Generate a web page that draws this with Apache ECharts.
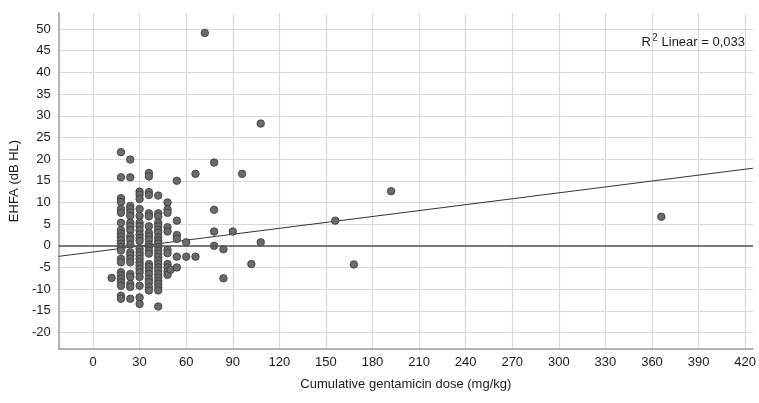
<!DOCTYPE html>
<html>
<head>
<meta charset="utf-8">
<script src="https://cdn.jsdelivr.net/npm/echarts@6/dist/echarts.min.js"></script>
<style>
  html, body { margin: 0; padding: 0; background: #fff; }
  #chart { width: 759px; height: 403px; }
</style>
</head>
<body>
<div id="chart"></div>
<script>
// tick labels
var xTicks = [0, 30, 60, 90, 120, 150, 180, 210, 240, 270, 300, 330, 360, 390, 420];
var yTicks = [-20, -15, -10, -5, 0, 5, 10, 15, 20, 25, 30, 35, 40, 45, 50];

// EHFA values (dB HL) read per cumulative dose column (mg/kg)
var dose12 = [-7.4];
var dose18 = [21.6, 15.8, 11.0, 10.1, 8.5, 7.6, 5.3, 3.6, 2.8, 2.1, 1.3, 0.5, -0.3, -1.1, -3.0, -3.8, -6.1, -6.8, -7.6, -8.4, -9.2, -11.5, -12.2];
var dose24 = [19.9, 15.8, 9.2, 8.5, 7.7, 6.9, 5.3, 4.5, 3.6, 2.2, 1.4, 0.3, -1.5, -2.2, -3.0, -3.8, -6.5, -7.2, -8.8, -9.5, -12.2];
var dose30 = [12.5, 11.8, 10.8, 8.5, 6.9, 5.3, 4.5, 3.6, 2.6, 1.8, 1.1, -0.7, -1.5, -2.2, -3.0, -3.8, -4.5, -5.3, -6.1, -7.2, -9.2, -11.9, -13.4];
var dose36 = [16.8, 16.0, 12.4, 11.7, 7.5, 6.8, 4.5, 3.0, 2.2, 1.4, 0.3, -0.3, -1.1, -1.8, -4.2, -4.9, -5.7, -6.5, -7.6, -8.4, -9.5, -10.3];
var dose42 = [11.6, 7.5, 6.8, 5.3, 4.5, 3.7, 3.0, 2.0, 1.2, 0.5, -0.3, -1.1, -1.8, -2.6, -3.4, -4.2, -5.0, -5.7, -6.5, -7.3, -8.1, -8.8, -9.6, -10.3, -14.0];
var dose48 = [10.0, 8.4, 7.6, 4.3, 3.3, -0.9, -1.7, -4.2, -5.0, -5.9, -6.7];
var dose50 = [-5.5];
var dose54 = [15.0, 5.8, 2.5, 1.6, -2.5, -5.0];
var dose60 = [0.8, -2.5];
var dose66 = [16.6, -2.5];
var dose72 = [49.1];
var dose78 = [19.2, 8.3, 3.3, 0];
var dose84 = [-0.8, -7.5];
var dose90 = [3.3];
var dose96 = [16.6];
var dose102 = [-4.2];
var dose108 = [28.2, 0.8];
var dose156 = [5.8];
var dose168 = [-4.3];
var dose192 = [12.6];
var dose366 = [6.7];

var doseColumns = [
  [12, dose12], [18, dose18], [24, dose24], [30, dose30], [36, dose36],
  [42, dose42], [48, dose48], [50, dose50], [54, dose54], [60, dose60],
  [66, dose66], [72, dose72], [78, dose78], [84, dose84], [90, dose90],
  [96, dose96], [102, dose102], [108, dose108], [156, dose156],
  [168, dose168], [192, dose192], [366, dose366]
];

// linear fit line end points
var fitX = [-22.1, 425];
var fitY = [-2.43, 17.9];

var points = [];
doseColumns.forEach(function (c) {
  c[1].forEach(function (v) { points.push([c[0], v]); });
});

var fitData = [[fitX[0], fitY[0]], [fitX[1], fitY[1]]];

var font = "'Liberation Sans', Arial, sans-serif";
var gridColor = '#d9d9d9';
var textColor = '#1a1a1a';

var chart = echarts.init(document.getElementById('chart'));
chart.setOption({
  animation: false,
  grid: {
    left: 57,
    right: 0,
    top: 13,
    bottom: 54,
    containLabel: false
  },
  xAxis: {
    type: 'value',
    min: -22.1,
    max: 425,
    name: 'Cumulative gentamicin dose (mg/kg)',
    nameLocation: 'middle',
    nameGap: 29,
    nameTextStyle: { color: textColor, fontSize: 13, fontFamily: font },
    axisLine: { onZero: false, lineStyle: { color: '#9a9a9a', width: 1.5 } },
    axisTick: { show: false, customValues: xTicks },
    axisLabel: { customValues: xTicks, color: textColor, fontSize: 13, fontFamily: font, margin: 7 },
    splitLine: { show: true, lineStyle: { color: gridColor, width: 1.2 } }
  },
  yAxis: {
    type: 'value',
    min: -23.8,
    max: 53.7,
    name: 'EHFA (dB HL)',
    nameLocation: 'middle',
    nameGap: 34,
    nameTextStyle: { color: textColor, fontSize: 13, fontFamily: font },
    axisLine: { show: true, onZero: false, lineStyle: { color: '#9a9a9a', width: 1.5 } },
    axisTick: { show: false, customValues: yTicks },
    axisLabel: { customValues: yTicks, color: textColor, fontSize: 13, fontFamily: font, margin: 8 },
    splitLine: { show: true, lineStyle: { color: gridColor, width: 1.2 } }
  },
  graphic: [
    {
      type: 'text', x: 745, y: 36,
      style: { text: 'Linear = 0,033', fill: textColor, font: "13px 'Liberation Sans', Arial, sans-serif", align: 'right', verticalAlign: 'top' }
    },
    {
      type: 'text', x: 651, y: 36,
      style: { text: 'R', fill: textColor, font: "13px 'Liberation Sans', Arial, sans-serif", align: 'right', verticalAlign: 'top' }
    },
    {
      type: 'text', x: 652, y: 33,
      style: { text: '2', fill: textColor, font: "10px 'Liberation Sans', Arial, sans-serif", align: 'left', verticalAlign: 'top' }
    }
  ],
  series: [
    {
      type: 'line',
      data: fitData,
      showSymbol: false,
      silent: true,
      lineStyle: { color: '#333', width: 1 },
      z: 3,
      markLine: {
        silent: true,
        symbol: 'none',
        label: { show: false },
        lineStyle: { color: '#555', width: 1.5, type: 'solid' },
        data: [{ yAxis: 0 }]
      }
    },
    {
      type: 'scatter',
      data: points,
      symbol: 'circle',
      symbolSize: 7.5,
      itemStyle: { color: '#6a6a6a', borderColor: '#383838', borderWidth: 0.8, opacity: 1 },
      z: 4
    }
  ]
});
</script>
</body>
</html>
